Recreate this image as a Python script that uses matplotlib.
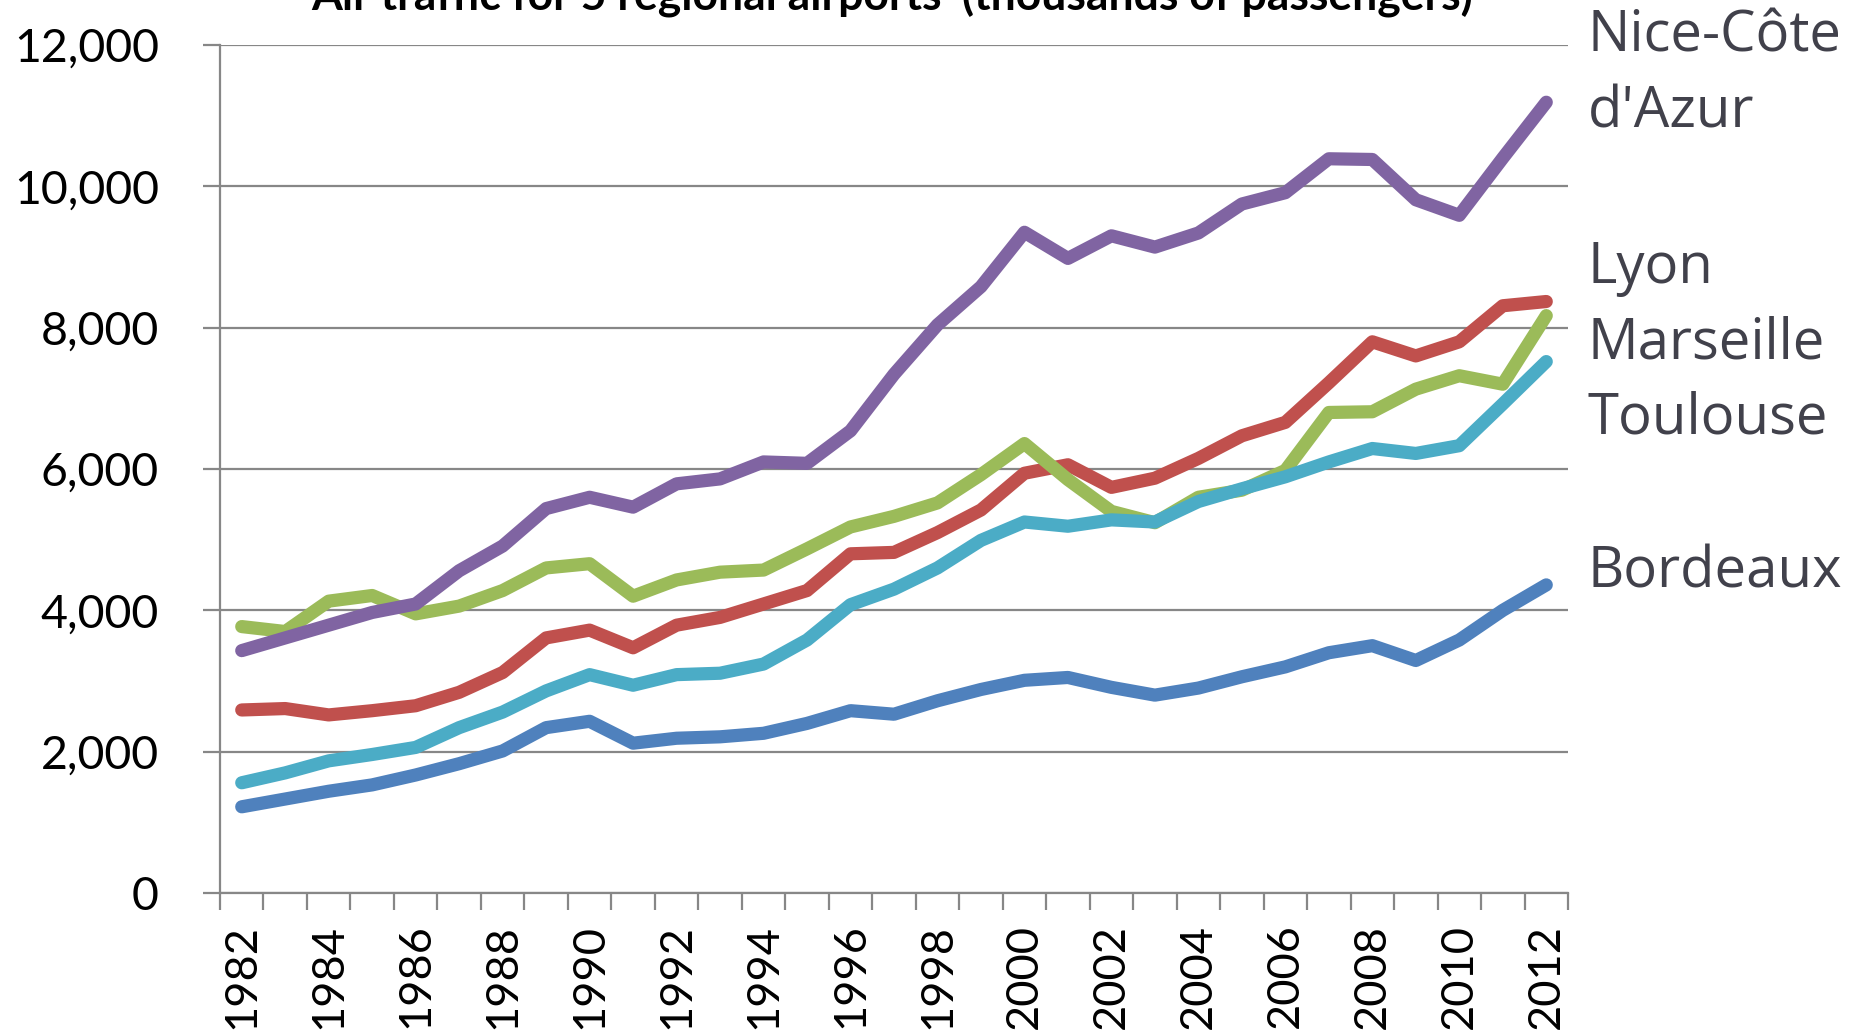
import matplotlib
matplotlib.use("Agg")
import matplotlib.pyplot as plt
from matplotlib.ticker import FuncFormatter, FixedLocator

years = list(range(1982, 2013))

bordeaux = [1220, 1330, 1440, 1530, 1670, 1830, 2010, 2340, 2430, 2120,
            2190, 2210, 2260, 2400, 2580, 2530, 2720, 2880, 3010, 3050,
            2910, 2800, 2900, 3060, 3200, 3400, 3500, 3290, 3580, 4000, 4360]
lyon = [2590, 2610, 2520, 2580, 2650, 2840, 3120, 3610, 3720, 3470,
        3790, 3900, 4090, 4280, 4800, 4820, 5100, 5420, 5940, 6060,
        5740, 5870, 6150, 6470, 6660, 7220, 7800, 7600, 7800, 8310, 8370]
marseille = [3770, 3700, 4130, 4210, 3950, 4060, 4280, 4600, 4660, 4200,
             4430, 4540, 4570, 4870, 5180, 5330, 5520, 5920, 6360, 5850,
             5400, 5240, 5600, 5700, 5980, 6800, 6810, 7130, 7320, 7200, 8170]
nice = [3430, 3610, 3790, 3970, 4090, 4560, 4910, 5440, 5600, 5460,
        5790, 5860, 6100, 6080, 6540, 7340, 8040, 8580, 9350, 8980,
        9300, 9140, 9340, 9750, 9910, 10390, 10380, 9810, 9590, 10400, 11190]
toulouse = [1560, 1700, 1870, 1960, 2060, 2340, 2560, 2860, 3090, 2940,
            3090, 3110, 3240, 3580, 4080, 4300, 4600, 4990, 5250, 5190,
            5280, 5250, 5540, 5720, 5890, 6100, 6290, 6220, 6330, 6920, 7520]

series = [bordeaux, lyon, marseille, nice, toulouse]
colors = ["#4F81BD", "#C0504D", "#9BBB59", "#8064A2", "#4BACC6"]

fig = plt.figure(figsize=(18.56, 10.34), dpi=100)
ax = fig.add_axes([220 / 1856, 1 - 893 / 1034, (1568 - 220) / 1856, (893 - 45) / 1034])

xs = list(range(len(years)))
for i, (vals, c) in enumerate(zip(series, colors)):
    ax.plot(xs, vals, color=c, lw=9.5, solid_capstyle="round",
            solid_joinstyle="round", zorder=3 + i)

grid_c = "#878787"
ax.set_ylim(0, 12000)
ax.set_xlim(-0.5, len(years) - 0.5)
ax.set_yticks(range(0, 12001, 2000))
ax.yaxis.set_major_formatter(FuncFormatter(lambda v, p: f"{int(v):,}"))
ax.grid(axis="y", color=grid_c, lw=1.6, zorder=1)
ax.set_axisbelow(True)

ax.set_xticks(xs[::2])
ax.set_xticklabels([str(y) for y in years[::2]], rotation=90)
ax.xaxis.set_minor_locator(FixedLocator([x - 0.5 for x in range(len(years) + 1)]))

for s in ["top", "right"]:
    ax.spines[s].set_visible(False)
for s in ["left", "bottom"]:
    ax.spines[s].set_color(grid_c)
    ax.spines[s].set_linewidth(1.6)

ax.tick_params(axis="y", length=12, width=1.6, color=grid_c, pad=32,
               labelsize=33.5, labelfontfamily="Lato")
ax.tick_params(axis="x", which="major", length=0, pad=22,
               labelsize=32.5, labelfontfamily="Lato")
ax.tick_params(axis="x", which="minor", length=12, width=1.6, color=grid_c)

fig.text(892 / 1856, 1 - 10 / 1034,
         "Air traffic for 5 regional airports' (thousands of passengers)",
         ha="center", va="baseline", fontsize=32, fontweight="bold",
         family="Lato", color="black")

label_c = "#41414b"
labels = ["Nice-Côte", "d'Azur", "Lyon", "Marseille", "Toulouse", "Bordeaux"]
label_y = [52, 128, 283, 358, 434, 587]
for txt, yp in zip(labels, label_y):
    fig.text(1588 / 1856, 1 - yp / 1034, txt, ha="left", va="baseline",
             fontsize=40.5, family="Open Sans", color=label_c)

fig.savefig("out.png", dpi=100)
